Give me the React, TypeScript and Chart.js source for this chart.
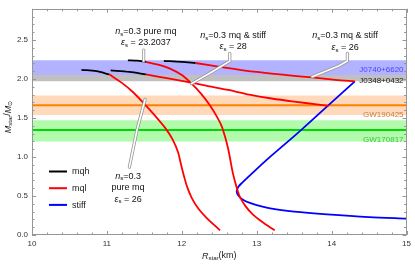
import React, { useEffect, useRef } from "react";
import { Chart, registerables } from "chart.js";

Chart.register(...registerables);

const FAMILY = '"Liberation Sans", Arial, sans-serif';

// Axis ticks
const X_TICKS = [10, 11, 12, 13, 14, 15];
const Y_TICKS = [0, 0.5, 1.0, 1.5, 2.0, 2.5];

// Mass-radius curves: [R (km), M (Msun)]
// n_s=0.3 pure mq, eps_s=26
const MQH_PURE26: number[][] = [[10.66, 2.118], [10.86, 2.10], [11.03, 2.06]];
const MQL_PURE26: number[][] = [
  [11.03, 2.06], [11.2, 1.95], [11.35, 1.83], [11.5, 1.68], [11.65, 1.52], [11.78, 1.37],
  [11.88, 1.22], [11.95, 1.06], [11.99, 0.9], [12.03, 0.75], [12.07, 0.62], [12.13, 0.48],
  [12.22, 0.34], [12.33, 0.22], [12.51, 0.06],
];
// n_s=0.3 pure mq, eps_s=23.2037
const MQH_PURE23: number[][] = [[11.28, 2.24], [11.4, 2.235], [11.52, 2.22]];
const MQL_PURE23: number[][] = [
  [11.52, 2.22], [11.7, 2.18], [11.85, 2.13], [12.0, 2.05], [12.12, 1.95], [12.25, 1.82],
  [12.37, 1.67], [12.46, 1.53], [12.53, 1.4], [12.58, 1.25], [12.62, 1.1], [12.65, 0.95],
  [12.68, 0.8], [12.72, 0.65], [12.77, 0.5], [12.85, 0.37], [12.95, 0.26], [13.07, 0.17],
  [13.24, 0.06],
];
// n_s=0.3 mq & stiff, eps_s=28
const MQH_STIFF28: number[][] = [[11.05, 2.11], [11.3, 2.09], [11.52, 2.06]];
const MQL_STIFF28: number[][] = [
  [11.52, 2.06], [11.8, 2.01], [12.09, 1.96], [12.35, 1.91], [12.62, 1.86], [12.9, 1.8],
  [13.2, 1.75], [13.5, 1.71], [13.8, 1.675], [13.96, 1.655],
];
// n_s=0.3 mq & stiff, eps_s=26
const MQH_STIFF26: number[][] = [[11.76, 2.233], [12.0, 2.22], [12.18, 2.205]];
const MQL_STIFF26: number[][] = [
  [12.18, 2.205], [12.55, 2.15], [13.0, 2.09], [13.4, 2.05], [13.74, 2.02], [14.05, 1.99],
  [14.31, 1.97],
];
// stiff hadronic EoS
const STIFF: number[][] = [
  [14.31, 1.97], [13.94, 1.65], [13.55, 1.31], [13.2, 1.02], [12.97, 0.82], [12.87, 0.73],
  [12.8, 0.665], [12.76, 0.625], [12.74, 0.59], [12.733, 0.56], [12.74, 0.53], [12.76, 0.5],
  [12.79, 0.47], [12.84, 0.44], [12.9, 0.415], [13.0, 0.383], [13.2, 0.337], [13.5, 0.3],
  [13.94, 0.265], [14.5, 0.23], [15.0, 0.21],
];

// Observational constraints
const BAND_NAMES = ["J0740+6620", "J0348+0432", "GW190425", "GW170817"];
const BAND_LOW = [2.05, 1.97, 1.54, 1.2];
const BAND_HIGH = [2.24, 2.05, 1.79, 1.47];
const BAND_CENTER: (number | null)[] = [null, null, 1.665, 1.345];
const BAND_LABEL_M = [2.119, 1.983, 1.54, 1.215];

const BAND_FILL = ["rgb(178,178,255)", "rgb(192,192,192)", "rgb(255,217,186)", "rgb(178,250,172)"];
const BAND_LINE = [null, null, "rgb(255,128,0)", "rgb(0,215,0)"];
const BAND_TEXT = ["rgb(70,70,255)", "rgb(20,20,20)", "rgb(200,125,60)", "rgb(60,200,60)"];

type Part = { t: string; i?: boolean; sub?: boolean };

const ANNOTATIONS: { at: [number, number]; lines: Part[][]; gap: number }[] = [
  {
    at: [11.52, 2.603],
    gap: 11,
    lines: [
      [{ t: "n", i: true }, { t: "s", sub: true }, { t: "=0.3 pure mq" }],
      [{ t: "ε", i: true }, { t: "s", sub: true }, { t: " = 23.2037" }],
    ],
  },
  {
    at: [12.685, 2.559],
    gap: 11.5,
    lines: [
      [{ t: "n", i: true }, { t: "s", sub: true }, { t: "=0.3 mq & stiff" }],
      [{ t: "ε", i: true }, { t: "s", sub: true }, { t: " = 28" }],
    ],
  },
  {
    at: [14.18, 2.553],
    gap: 11.5,
    lines: [
      [{ t: "n", i: true }, { t: "s", sub: true }, { t: "=0.3 mq & stiff" }],
      [{ t: "ε", i: true }, { t: "s", sub: true }, { t: " = 26" }],
    ],
  },
  {
    at: [11.283, 0.756],
    gap: 11.5,
    lines: [
      [{ t: "n", i: true }, { t: "s", sub: true }, { t: "=0.3" }],
      [{ t: "pure mq" }],
      [{ t: "ε", i: true }, { t: "s", sub: true }, { t: " = 26" }],
    ],
  },
];

const LEADERS: number[][][] = [
  [[11.49, 2.37], [11.49, 2.23]],
  [[12.64, 2.33], [12.64, 2.23], [12.4, 2.09], [12.13, 1.94]],
  [[14.21, 2.33], [14.21, 2.23], [14.1, 2.17], [13.74, 2.03]],
  [[11.3, 0.87], [11.4, 1.34], [11.51, 1.74]],
];

const LEGEND = [
  { label: "mqh", color: "#000000" },
  { label: "mql", color: "#ff0000" },
  { label: "stiff", color: "#0000ff" },
];

const pts = (a: number[][]) => a.map(([x, y]) => ({ x, y }));

function drawRich(ctx: CanvasRenderingContext2D, parts: Part[], cx: number, cy: number, size: number, color: string, align: "center" | "right" = "center") {
  const fontFor = (p: Part) => `${p.i ? "italic " : ""}${p.sub ? size * 0.68 : size}px ${FAMILY}`;
  let w = 0;
  parts.forEach((p) => {
    ctx.font = fontFor(p);
    w += ctx.measureText(p.t).width;
  });
  let xx = align === "center" ? cx - w / 2 : cx - w;
  ctx.fillStyle = color;
  ctx.textBaseline = "middle";
  ctx.textAlign = "left";
  parts.forEach((p) => {
    ctx.font = fontFor(p);
    ctx.fillText(p.t, xx, cy + (p.sub ? size * 0.3 : 0));
    xx += ctx.measureText(p.t).width;
  });
}

const decor = {
  id: "decor",
  afterDatasetsDraw(chart: any) {
    const { ctx, chartArea: a, scales } = chart;
    const xs = scales.x;
    const ys = scales.y;
    ctx.save();

    // band labels
    BAND_NAMES.forEach((name, i) => {
      drawRich(ctx, [{ t: name }], xs.getPixelForValue(14.96), ys.getPixelForValue(BAND_LABEL_M[i]), 8, BAND_TEXT[i], "right");
    });

    // leaders
    LEADERS.forEach((l) => {
      const path = () => {
        ctx.beginPath();
        l.forEach(([r, m], k) => {
          const px = xs.getPixelForValue(r);
          const py = ys.getPixelForValue(m);
          if (k === 0) ctx.moveTo(px, py);
          else ctx.lineTo(px, py);
        });
      };
      ctx.lineJoin = "round";
      ctx.lineCap = "round";
      path();
      ctx.strokeStyle = "rgb(150,150,150)";
      ctx.lineWidth = 3.2;
      ctx.stroke();
      path();
      ctx.strokeStyle = "#ffffff";
      ctx.lineWidth = 1.6;
      ctx.stroke();
    });

    // annotations
    ANNOTATIONS.forEach((an) => {
      const cx = xs.getPixelForValue(an.at[0]);
      const cy = ys.getPixelForValue(an.at[1]);
      an.lines.forEach((ln, k) => drawRich(ctx, ln, cx, cy + k * an.gap, 9, "#111111"));
    });

    // frame
    ctx.strokeStyle = "rgb(150,150,150)";
    ctx.lineWidth = 1;
    ctx.lineCap = "butt";
    ctx.strokeRect(Math.round(a.left) + 0.5, Math.round(a.top) + 0.5, Math.round(a.right - a.left) - 1, Math.round(a.bottom - a.top) - 1);

    // tick marks
    ctx.beginPath();
    for (let k = 0; k <= 25; k++) {
      const v = 10 + k * 0.2;
      const len = k % 5 === 0 ? 4 : 2.5;
      const px = Math.round(xs.getPixelForValue(v)) + 0.5;
      ctx.moveTo(px, a.bottom);
      ctx.lineTo(px, a.bottom - len);
      ctx.moveTo(px, a.top);
      ctx.lineTo(px, a.top + len);
    }
    for (let k = 0; k <= 29; k++) {
      const v = k * 0.1;
      const len = k % 5 === 0 ? 4 : 2.5;
      const py = Math.round(ys.getPixelForValue(v)) + 0.5;
      ctx.moveTo(a.left, py);
      ctx.lineTo(a.left + len, py);
      ctx.moveTo(a.right, py);
      ctx.lineTo(a.right - len, py);
    }
    ctx.stroke();

    // legend
    LEGEND.forEach((it, k) => {
      const ly = a.bottom - 63.5 + k * 16.7;
      ctx.beginPath();
      ctx.strokeStyle = it.color;
      ctx.lineWidth = 2;
      ctx.moveTo(a.left + 17, ly);
      ctx.lineTo(a.left + 35, ly);
      ctx.stroke();
      ctx.font = `9px ${FAMILY}`;
      ctx.fillStyle = "#222222";
      ctx.textAlign = "left";
      ctx.textBaseline = "middle";
      ctx.fillText(it.label, a.left + 40, ly + 0.5);
    });

    // axis titles
    const xMid = (a.left + a.right) / 2;
    drawRich(ctx, [{ t: "R", i: true }, { t: "star", sub: true }, { t: "(km)" }], xMid, 256, 9, "#222222");
    ctx.translate(8, 117);
    ctx.rotate(-Math.PI / 2);
    drawRich(ctx, [{ t: "M", i: true }, { t: "star", sub: true }, { t: "/" }, { t: "M", i: true }, { t: "⊙", sub: true }], 0, 0, 9, "#222222");
    ctx.restore();
  },
};

export default function App() {
  const ref = useRef<HTMLCanvasElement | null>(null);

  useEffect(() => {
    if (!ref.current) return;
    const curve = (data: number[][], color: string) => ({
      data: pts(data),
      borderColor: color,
      borderWidth: 1.8,
      pointRadius: 0,
      fill: false,
      tension: 0.3,
      order: 0,
    });
    const datasets: any[] = [
      curve(MQH_PURE26, "#000000"),
      curve(MQH_PURE23, "#000000"),
      curve(MQH_STIFF28, "#000000"),
      curve(MQH_STIFF26, "#000000"),
      curve(MQL_PURE26, "#ff0000"),
      curve(MQL_PURE23, "#ff0000"),
      curve(MQL_STIFF28, "#ff0000"),
      curve(MQL_STIFF26, "#ff0000"),
      curve(STIFF, "#0000ff"),
    ];
    BAND_NAMES.forEach((_, i) => {
      datasets.push({
        data: [{ x: 10, y: BAND_LOW[i] }, { x: 15, y: BAND_LOW[i] }],
        borderColor: "rgba(0,0,0,0)",
        borderWidth: 0,
        pointRadius: 0,
        fill: false,
        order: 10,
      });
      datasets.push({
        data: [{ x: 10, y: BAND_HIGH[i] }, { x: 15, y: BAND_HIGH[i] }],
        borderColor: "rgba(0,0,0,0)",
        backgroundColor: BAND_FILL[i],
        borderWidth: 0,
        pointRadius: 0,
        fill: "-1",
        order: 10,
      });
    });
    BAND_NAMES.forEach((_, i) => {
      const c = BAND_CENTER[i];
      if (c === null) return;
      datasets.push({
        data: [{ x: 10, y: c }, { x: 15, y: c }],
        borderColor: BAND_LINE[i],
        borderWidth: 2,
        pointRadius: 0,
        fill: false,
        order: 5,
      });
    });

    const chart = new Chart(ref.current, {
      type: "line",
      data: { datasets },
      options: {
        animation: false,
        responsive: false,
        devicePixelRatio: 1,
        layout: { padding: { top: 1, right: 5, left: 0, bottom: 0 } },
        plugins: { legend: { display: false }, tooltip: { enabled: false } },
        scales: {
          x: {
            type: "linear",
            min: 10,
            max: 15,
            grid: { display: false, drawTicks: false },
            border: { display: false },
            ticks: {
              padding: 4,
              color: "#333333",
              font: { size: 8, family: FAMILY },
              maxRotation: 0,
              autoSkip: false,
              callback: (v: any) => String(v),
            },
            afterBuildTicks: (s: any) => {
              s.ticks = X_TICKS.map((v) => ({ value: v }));
            },
            afterFit: (s: any) => {
              s.height = 29;
            },
          },
          y: {
            type: "linear",
            min: 0,
            max: 2.9,
            grid: { display: false, drawTicks: false },
            border: { display: false },
            ticks: {
              padding: 4,
              color: "#333333",
              font: { size: 8, family: FAMILY },
              autoSkip: false,
              callback: (v: any) => Number(v).toFixed(1),
            },
            afterBuildTicks: (s: any) => {
              s.ticks = Y_TICKS.map((v) => ({ value: v }));
            },
            afterFit: (s: any) => {
              s.width = 32;
            },
          },
        },
      },
      plugins: [decor],
    } as any);
    return () => chart.destroy();
  }, []);

  return (
    <div style={{ position: "fixed", left: 0, top: 0, width: 415, height: 264, background: "#ffffff" }}>
      <canvas ref={ref} width={415} height={264} style={{ display: "block" }} />
    </div>
  );
}
